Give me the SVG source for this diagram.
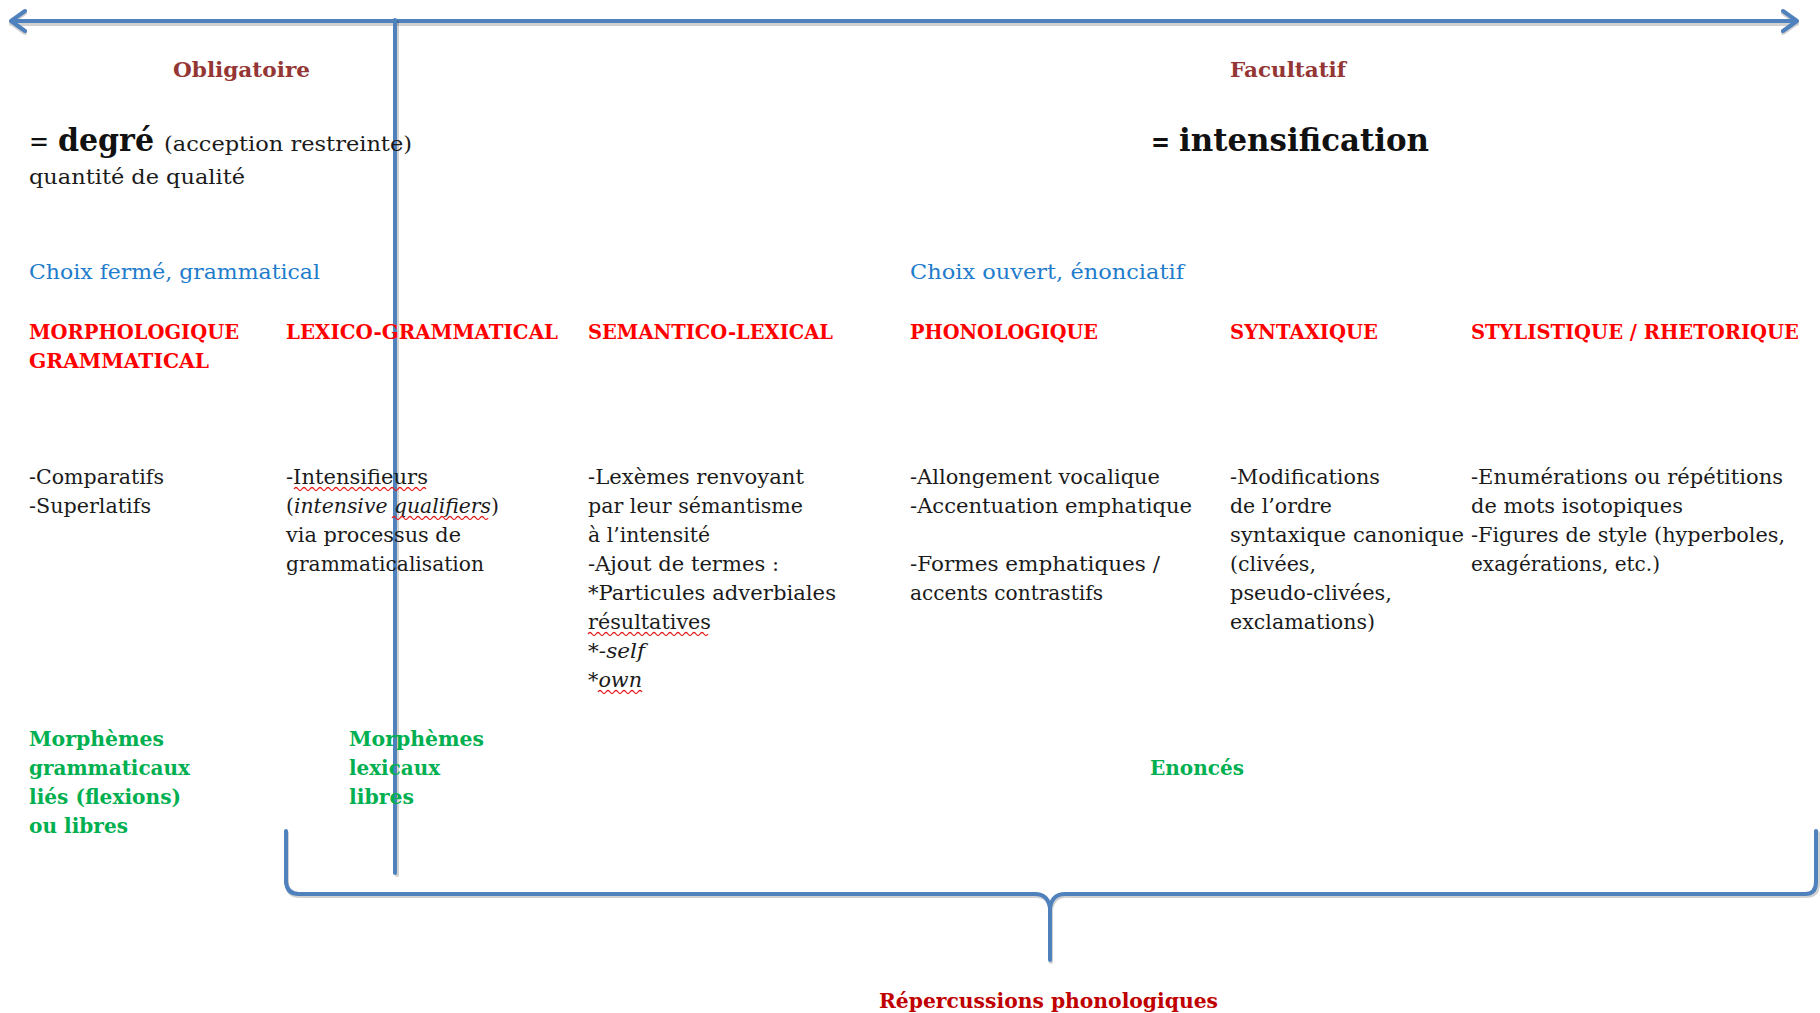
<svg xmlns="http://www.w3.org/2000/svg" width="1820" height="1013" viewBox="0 0 1820 1013">
<style>
text{font-family:"DejaVu Serif","Liberation Serif",serif;}
.b{font-size:20px;fill:#1a1a1a;}
.hd{font-size:20px;font-weight:bold;fill:#ff0000;}
.gr{font-size:20px;font-weight:bold;fill:#00b050;}
.bl{font-size:21px;fill:#1f7ccc;}
.dr{font-size:20px;font-weight:bold;fill:#943634;}
.ln{fill:none;stroke:#4f81bd;stroke-width:4;stroke-linecap:round;stroke-linejoin:round;}
.sh{fill:none;stroke:#000;stroke-opacity:0.18;stroke-width:4;stroke-linecap:round;stroke-linejoin:round;}
.sq{fill:none;stroke:#e02020;stroke-width:1.3;}
.it{font-style:italic;}
</style>
<rect width="1820" height="1013" fill="#ffffff"/>
<g id="connectors">
  <path class="sh" d="M11 24 H1797 M25 13 L11 23 L25 33 M1783 13 L1797 23 L1783 33"/>
  <path class="ln" d="M11 21 H1797 M25 11 L11 21 L25 31 M1783 11 L1797 21 L1783 31"/>
  <path class="sh" d="M397 22 V875"/>
  <path class="ln" d="M395 20 V873"/>
  <path class="sh" d="M287 833 V884 Q288 896 300 896 H1036 Q1049 896 1051 910 L1051 962 M1051 910 Q1053 896 1066 896 H1806 Q1818 896 1818 884 V833"/>
  <path class="ln" d="M286 831 V882 Q287 894 299 894 H1035 Q1048 894 1050 908 L1050 960 M1050 908 Q1052 894 1065 894 H1805 Q1816 894 1816 882 V831"/>
</g>
<g id="obligatoire"><text class="dr" x="173" y="77" textLength="137" lengthAdjust="spacingAndGlyphs">Obligatoire</text></g>
<g id="facultatif"><text class="dr" x="1230" y="77" textLength="116" lengthAdjust="spacingAndGlyphs">Facultatif</text></g>
<g id="degre">
  <text x="29" y="151" style="font-size:28px;fill:#111" textLength="20" lengthAdjust="spacingAndGlyphs">=</text>
  <text x="58" y="151" style="font-size:31px;font-weight:bold;fill:#111" textLength="96" lengthAdjust="spacingAndGlyphs">degré</text>
  <text class="b" x="164" y="151" textLength="248" lengthAdjust="spacingAndGlyphs">(acception restreinte)</text>
  <text class="b" x="29" y="184" textLength="216" lengthAdjust="spacingAndGlyphs">quantité de qualité</text>
</g>
<g id="intensification">
  <text x="1151" y="151" style="font-size:28px;font-weight:bold;fill:#111" textLength="19" lengthAdjust="spacingAndGlyphs">=</text>
  <text x="1179" y="151" style="font-size:31px;font-weight:bold;fill:#111" textLength="250" lengthAdjust="spacingAndGlyphs">intensification</text>
</g>
<g id="choix-ferme"><text class="bl" x="29" y="279" textLength="291" lengthAdjust="spacingAndGlyphs">Choix fermé, grammatical</text></g>
<g id="choix-ouvert"><text class="bl" x="910" y="279" textLength="274" lengthAdjust="spacingAndGlyphs">Choix ouvert, énonciatif</text></g>
<g id="morphologique">
  <text class="hd" x="29" y="339" textLength="210" lengthAdjust="spacingAndGlyphs">MORPHOLOGIQUE</text>
  <text class="hd" x="29" y="368" textLength="180" lengthAdjust="spacingAndGlyphs">GRAMMATICAL</text>
  <text class="b" x="29" y="484" textLength="135" lengthAdjust="spacingAndGlyphs">-Comparatifs</text>
  <text class="b" x="29" y="513" textLength="122" lengthAdjust="spacingAndGlyphs">-Superlatifs</text>
</g>
<g id="lexico-grammatical">
  <text class="hd" x="286" y="339" textLength="272" lengthAdjust="spacingAndGlyphs">LEXICO-GRAMMATICAL</text>
  <text class="b" x="286" y="484" textLength="142" lengthAdjust="spacingAndGlyphs">-Intensifieurs</text>
  <text class="b" x="286" y="513" textLength="213" lengthAdjust="spacingAndGlyphs">(<tspan class="it">intensive qualifiers</tspan>)</text>
  <text class="b" x="286" y="542" textLength="175" lengthAdjust="spacingAndGlyphs">via processus de</text>
  <text class="b" x="286" y="571" textLength="198" lengthAdjust="spacingAndGlyphs">grammaticalisation</text>
  <path class="sq" d="M294 489 q2 -3 4 0 t4 0 t4 0 t4 0 t4 0 t4 0 t4 0 t4 0 t4 0 t4 0 t4 0 t4 0 t4 0 t4 0 t4 0 t4 0 t4 0 t4 0 t4 0 t4 0 t4 0 t4 0 t4 0 t4 0 t4 0 t4 0 t4 0 t4 0 t4 0 t4 0 t4 0 t4 0 t4 0"/>
  <path class="sq" d="M392 518 q2 -3 4 0 t4 0 t4 0 t4 0 t4 0 t4 0 t4 0 t4 0 t4 0 t4 0 t4 0 t4 0 t4 0 t4 0 t4 0 t4 0 t4 0 t4 0 t4 0 t4 0 t4 0 t4 0 t4 0 t4 0"/>
</g>
<g id="semantico-lexical">
  <text class="hd" x="588" y="339" textLength="245" lengthAdjust="spacingAndGlyphs">SEMANTICO-LEXICAL</text>
  <text class="b" x="588" y="484" textLength="216" lengthAdjust="spacingAndGlyphs">-Lexèmes renvoyant</text>
  <text class="b" x="588" y="513" textLength="215" lengthAdjust="spacingAndGlyphs">par leur sémantisme</text>
  <text class="b" x="588" y="542" textLength="122" lengthAdjust="spacingAndGlyphs">à l’intensité</text>
  <text class="b" x="588" y="571" textLength="191" lengthAdjust="spacingAndGlyphs">-Ajout de termes :</text>
  <text class="b" x="588" y="600" textLength="248" lengthAdjust="spacingAndGlyphs">*Particules adverbiales</text>
  <text class="b" x="588" y="629" textLength="123" lengthAdjust="spacingAndGlyphs">résultatives</text>
  <text class="b" x="588" y="658" textLength="57" lengthAdjust="spacingAndGlyphs">*<tspan class="it">-self</tspan></text>
  <text class="b" x="588" y="687" textLength="54" lengthAdjust="spacingAndGlyphs">*<tspan class="it">own</tspan></text>
  <path class="sq" d="M588 634 q2 -3 4 0 t4 0 t4 0 t4 0 t4 0 t4 0 t4 0 t4 0 t4 0 t4 0 t4 0 t4 0 t4 0 t4 0 t4 0 t4 0 t4 0 t4 0 t4 0 t4 0 t4 0 t4 0 t4 0 t4 0 t4 0 t4 0 t4 0 t4 0 t4 0 t4 0"/>
  <path class="sq" d="M598 692 q2 -3 4 0 t4 0 t4 0 t4 0 t4 0 t4 0 t4 0 t4 0 t4 0 t4 0 t4 0"/>
</g>
<g id="phonologique">
  <text class="hd" x="910" y="339" textLength="188" lengthAdjust="spacingAndGlyphs">PHONOLOGIQUE</text>
  <text class="b" x="910" y="484" textLength="250" lengthAdjust="spacingAndGlyphs">-Allongement vocalique</text>
  <text class="b" x="910" y="513" textLength="282" lengthAdjust="spacingAndGlyphs">-Accentuation emphatique</text>
  <text class="b" x="910" y="571" textLength="250" lengthAdjust="spacingAndGlyphs">-Formes emphatiques /</text>
  <text class="b" x="910" y="600" textLength="193" lengthAdjust="spacingAndGlyphs">accents contrastifs</text>
</g>
<g id="syntaxique">
  <text class="hd" x="1230" y="339" textLength="148" lengthAdjust="spacingAndGlyphs">SYNTAXIQUE</text>
  <text class="b" x="1230" y="484" textLength="150" lengthAdjust="spacingAndGlyphs">-Modifications</text>
  <text class="b" x="1230" y="513" textLength="102" lengthAdjust="spacingAndGlyphs">de l’ordre</text>
  <text class="b" x="1230" y="542" textLength="234" lengthAdjust="spacingAndGlyphs">syntaxique canonique</text>
  <text class="b" x="1230" y="571" textLength="86" lengthAdjust="spacingAndGlyphs">(clivées,</text>
  <text class="b" x="1230" y="600" textLength="162" lengthAdjust="spacingAndGlyphs">pseudo-clivées,</text>
  <text class="b" x="1230" y="629" textLength="145" lengthAdjust="spacingAndGlyphs">exclamations)</text>
</g>
<g id="stylistique">
  <text class="hd" x="1471" y="339" textLength="328" lengthAdjust="spacingAndGlyphs">STYLISTIQUE / RHETORIQUE</text>
  <text class="b" x="1471" y="484" textLength="312" lengthAdjust="spacingAndGlyphs">-Enumérations ou répétitions</text>
  <text class="b" x="1471" y="513" textLength="212" lengthAdjust="spacingAndGlyphs">de mots isotopiques</text>
  <text class="b" x="1471" y="542" textLength="314" lengthAdjust="spacingAndGlyphs">-Figures de style (hyperboles,</text>
  <text class="b" x="1471" y="571" textLength="189" lengthAdjust="spacingAndGlyphs">exagérations, etc.)</text>
</g>
<g id="morphemes-grammaticaux">
  <text class="gr" x="29" y="746" textLength="135" lengthAdjust="spacingAndGlyphs">Morphèmes</text>
  <text class="gr" x="29" y="775" textLength="161" lengthAdjust="spacingAndGlyphs">grammaticaux</text>
  <text class="gr" x="29" y="804" textLength="152" lengthAdjust="spacingAndGlyphs">liés (flexions)</text>
  <text class="gr" x="29" y="833" textLength="99" lengthAdjust="spacingAndGlyphs">ou libres</text>
</g>
<g id="morphemes-lexicaux">
  <text class="gr" x="349" y="746" textLength="135" lengthAdjust="spacingAndGlyphs">Morphèmes</text>
  <text class="gr" x="349" y="775" textLength="91" lengthAdjust="spacingAndGlyphs">lexicaux</text>
  <text class="gr" x="349" y="804" textLength="65" lengthAdjust="spacingAndGlyphs">libres</text>
</g>
<g id="enonces"><text class="gr" x="1150" y="775" textLength="94" lengthAdjust="spacingAndGlyphs">Enoncés</text></g>
<g id="repercussions"><text x="879" y="1008" style="font-size:21px;font-weight:bold;fill:#c00000" textLength="339" lengthAdjust="spacingAndGlyphs">Répercussions phonologiques</text></g>
</svg>
